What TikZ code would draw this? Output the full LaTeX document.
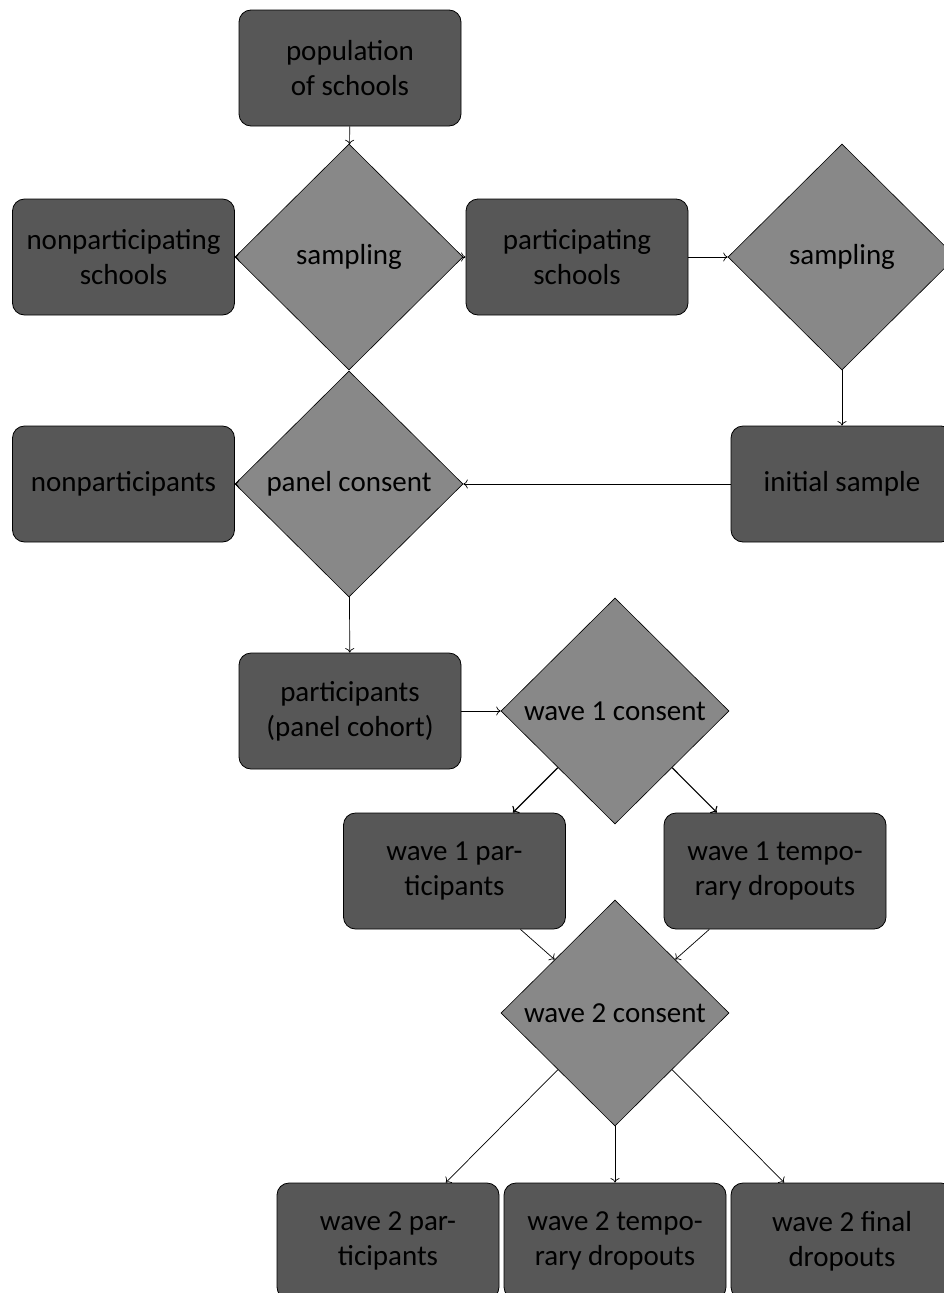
\documentclass[tikz,border=0pt]{standalone}
\usepackage{fontspec}
\setmainfont{Carlito}
\usetikzlibrary{shapes.geometric,arrows.meta}
\definecolor{boxfill}{RGB}{87,87,87}
\definecolor{diafill}{RGB}{136,136,136}
\begin{document}
\begin{tikzpicture}[x=1pt,y=-1pt,
  box/.style={draw=black, fill=boxfill, rounded corners=12pt, minimum width=222pt,
    minimum height=116pt, inner sep=0pt, align=center,
    font=\fontsize{29}{35}\selectfont, line width=0.8pt},
  dia/.style={draw=black, fill=diafill, diamond, minimum width=228pt,
    minimum height=226pt, inner sep=0pt, font=\fontsize{29}{35}\selectfont,
    line width=0.6pt},
  conn/.style={-{To[length=4.5pt,width=9pt]}, line width=0.7pt},
  thickconn/.style={-{To[length=5pt,width=10pt]}, line width=1.1pt}]
\useasboundingbox (0,0) rectangle (944,1293);

\node[box] (pop) at (350,68) {population\\of schools};
\node[dia] (d1) at (349,257) {\makebox[0pt]{sampling}};
\node[box] (nps) at (123.5,257) {nonparticipating\\schools};
\node[box] (ps) at (577,257) {participating\\schools};
\node[dia] (d2) at (842,257) {\makebox[0pt]{sampling}};
\node[box] (init) at (842,484) {initial sample};
\node[dia] (d3) at (349,484) {\makebox[0pt]{panel consent}};
\node[box] (np) at (123.5,484) {nonparticipants};
\node[box] (part) at (350,711) {participants\\(panel cohort)};
\node[dia] (w1) at (615,711) {\makebox[0pt]{wave 1 consent}};
\node[box] (w1p) at (454.5,871) {wave 1 par-\\ticipants};
\node[box] (w1t) at (775,871) {wave 1 tempo-\\rary dropouts};
\node[dia] (w2) at (615,1013) {\makebox[0pt]{wave 2 consent}};
\node[box] (b1) at (388,1241) {wave 2 par-\\ticipants};
\node[box] (b2) at (615,1241) {wave 2 tempo-\\rary dropouts};
\node[box] (b3) at (842,1241) {wave 2 final\\dropouts};

\draw[conn] (pop) -- (d1);
\draw[conn] ([xshift=1pt]d1.west) -- (nps.east);
\draw[conn] ([xshift=-1pt]d1.east) -- (ps.west);
\draw[conn] (ps) -- (d2);
\draw[conn] (d2) -- (init);
\draw[conn] (init) -- (d3);
\draw[conn] ([xshift=1pt]d3.west) -- (np.east);
\draw[conn] (d3) -- (part);
\draw[conn] (part) -- (w1);
\draw[thickconn] (w1.south west) -- (w1p);
\draw[thickconn] (w1.south east) -- (w1t);
\draw[conn] (w1p) -- (w2);
\draw[conn] (w1t) -- (w2);
\draw[conn] (w2.south west) -- (b1);
\draw[conn] (w2.south) -- (b2);
\draw[conn] (w2.south east) -- (b3);
\end{tikzpicture}
\end{document}
